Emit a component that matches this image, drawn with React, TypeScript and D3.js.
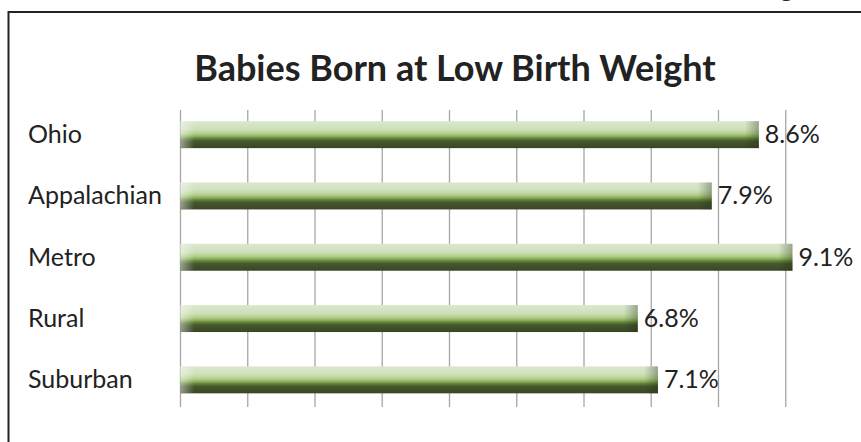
// import d3 for visualization
import * as d3 from "d3";

// import required hooks from React
import { useRef, useEffect } from "react";

// chart data
const categories = ["Ohio", "Appalachian", "Metro", "Rural", "Suburban"];
const values = [8.6, 7.9, 9.1, 6.8, 7.1];
const gridTicks = [0, 1, 2, 3, 4, 5, 6, 7, 8, 9];
const chartTitle = "Babies Born at Low Birth Weight";

const fontFamily = "Lato, 'Open Sans', sans-serif";

// define the BarChart component
export default function App() {
    // define ref for svg
    const svgRef = useRef<SVGSVGElement>(null);

    useEffect(() => {
        // select the svg using ref
        const svg = d3.select(svgRef.current);

        // remove any existing content in the svg
        svg.selectAll("*").remove();

        // gradients for the bars
        const defs = svg.append("defs");
        const grad = defs.append("linearGradient").attr("id", "barGrad").attr("x1", 0).attr("y1", 0).attr("x2", 0).attr("y2", 1);
        [
            [0, "#dae8cd"], [0.3, "#cfe0bb"], [0.46, "#b3cf8d"], [0.56, "#8db15d"],
            [0.64, "#63833d"], [0.74, "#46572c"], [1, "#394626"],
        ].forEach(([o, c]) => grad.append("stop").attr("offset", o as number).attr("stop-color", c as string));

        const leftCap = defs.append("linearGradient").attr("id", "leftCap").attr("x1", 0).attr("y1", 0).attr("x2", 1).attr("y2", 0);
        leftCap.append("stop").attr("offset", 0).attr("stop-color", "#ffffff").attr("stop-opacity", 0.45);
        leftCap.append("stop").attr("offset", 1).attr("stop-color", "#ffffff").attr("stop-opacity", 0);

        const rightCap = defs.append("linearGradient").attr("id", "rightCap").attr("x1", 0).attr("y1", 0).attr("x2", 1).attr("y2", 0);
        rightCap.append("stop").attr("offset", 0).attr("stop-color", "#1e2a10").attr("stop-opacity", 0);
        rightCap.append("stop").attr("offset", 1).attr("stop-color", "#1e2a10").attr("stop-opacity", 0.35);

        // outer frame (runs off the right and bottom edges)
        svg.append("rect").attr("x", 8.5).attr("y", 12).attr("width", 900).attr("height", 500).attr("fill", "none").attr("stroke", "#222").attr("stroke-width", 2);

        // cropped heading above the frame
        svg.append("text").attr("x", 780).attr("y", -3).attr("font-family", fontFamily).attr("font-weight", 700).attr("font-size", 26).attr("fill", "#222").text("g");

        // x scale and y scale
        const x = d3.scaleLinear().domain([0, 10]).range([180.5, 853]);
        const y = d3.scaleBand().domain(categories).range([104, 410.5]).paddingInner(0.56).paddingOuter(0.28);

        // vertical gridlines
        svg.append("g").selectAll("line").data(gridTicks).enter().append("line")
            .attr("x1", d => x(d)).attr("x2", d => x(d)).attr("y1", 110).attr("y2", 407)
            .attr("stroke", "#a6a6a6").attr("stroke-width", 1.3);

        // title
        svg.append("text").attr("x", 455).attr("y", 81).attr("text-anchor", "middle").attr("font-family", fontFamily).attr("font-weight", 700).attr("font-size", 36).attr("fill", "#222").text(chartTitle);

        // bars
        const bars = svg.append("g").selectAll("g").data(categories).enter().append("g");
        bars.append("rect").attr("x", x(0)).attr("y", d => y(d)!).attr("width", (d, i) => x(values[i]) - x(0)).attr("height", y.bandwidth()).attr("fill", "url(#barGrad)");
        bars.append("rect").attr("x", x(0)).attr("y", d => y(d)!).attr("width", 14).attr("height", y.bandwidth()).attr("fill", "url(#leftCap)");
        bars.append("rect").attr("x", (d, i) => x(values[i]) - 14).attr("y", d => y(d)!).attr("width", 14).attr("height", y.bandwidth()).attr("fill", "url(#rightCap)");

        // value labels
        svg.append("g").selectAll("text").data(categories).enter().append("text")
            .attr("x", (d, i) => x(values[i]) + 6).attr("y", d => y(d)! + y.bandwidth() / 2 + 8.5)
            .attr("font-family", fontFamily).attr("font-size", 25).attr("fill", "#222")
            .text((d, i) => `${values[i].toFixed(1)}%`);

        // category labels
        svg.append("g").selectAll("text").data(categories).enter().append("text")
            .attr("x", 28).attr("y", d => y(d)! + y.bandwidth() / 2 + 8.5)
            .attr("font-family", fontFamily).attr("font-size", 25).attr("fill", "#222")
            .text(d => d);
    }, []);

    // return the svg element
    return (
        <svg ref={svgRef} width={861} height={442} style={{ position: "absolute", left: 0, top: 0, background: "#fff" }} />
    );
}
